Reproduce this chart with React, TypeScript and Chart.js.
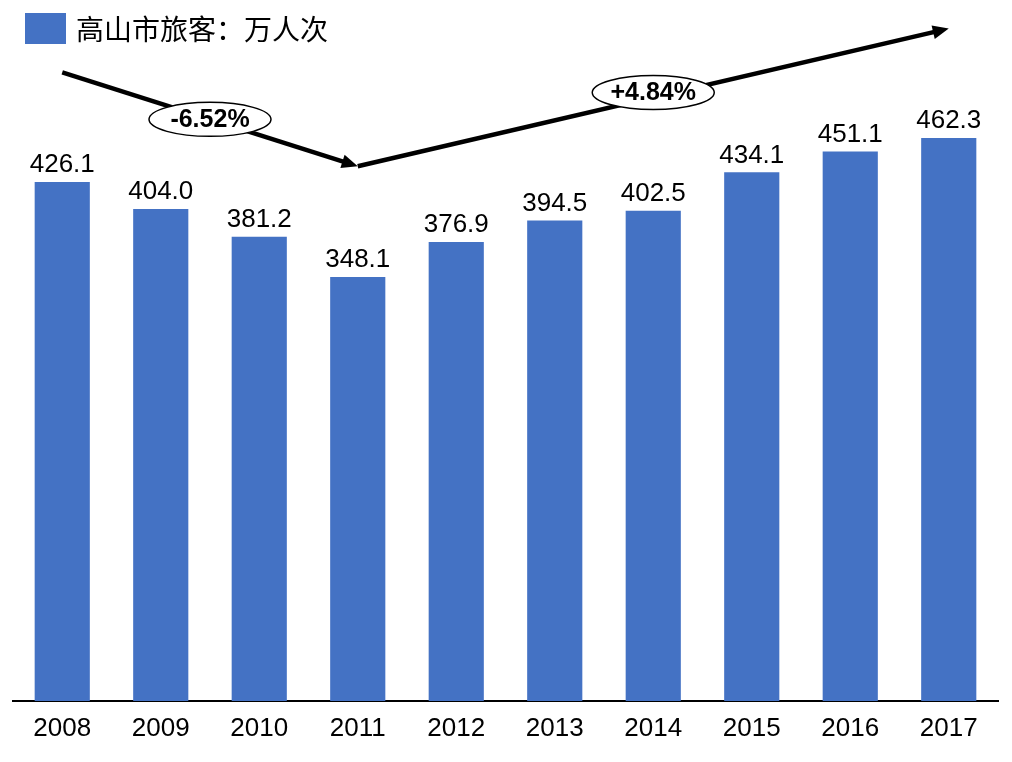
import { useEffect, useRef } from "react";
import { Chart, registerables } from "chart.js";

Chart.register(...registerables);

const years = ["2008", "2009", "2010", "2011", "2012", "2013", "2014", "2015", "2016", "2017"];
const visitors = [426.1, 404.0, 381.2, 348.1, 376.9, 394.5, 402.5, 434.1, 451.1, 462.3];
const seriesLabel = "高山市旅客：万人次";

// trend arrows, expressed in category index / value space
const trendFromIndex = [0, 3];
const trendToIndex = [3, 9];
const trendFromValue = [516, 439];
const trendToValue = [439, 552];
const trendLabels = ["-6.52%", "+4.84%"];

const BAR_COLOR = "#4472C4";
const LABEL_FONT = "26px 'Liberation Sans', Arial, sans-serif";
const BADGE_SHIFT = [0, -5];

const overlayPlugin = {
  id: "overlay",
  afterDatasetsDraw(chart: any) {
    const ctx = chart.ctx;
    const meta = chart.getDatasetMeta(0);
    ctx.save();
    ctx.font = LABEL_FONT;
    ctx.fillStyle = "#000";
    ctx.textAlign = "center";
    ctx.textBaseline = "alphabetic";
    meta.data.forEach((bar: any, i: number) => {
      const v = chart.data.datasets[0].data[i] as number;
      ctx.fillText(v.toFixed(1), bar.x, bar.y - 9.5);
    });
    ctx.restore();
  },
  afterDraw(chart: any) {
    const ctx = chart.ctx;
    const xs = chart.scales.x;
    const ys = chart.scales.y;
    ctx.save();

    // legend
    ctx.fillStyle = BAR_COLOR;
    ctx.fillRect(25, 13, 41, 31);
    ctx.fillStyle = "#000";
    ctx.font = "28px 'Noto Sans CJK SC', sans-serif";
    ctx.textAlign = "left";
    ctx.textBaseline = "middle";
    ctx.fillText(chart.data.datasets[0].label, 76, 29);

    // arrows
    for (let k = 0; k < trendLabels.length; k++) {
      const x1 = xs.getPixelForValue(trendFromIndex[k]);
      const y1 = ys.getPixelForValue(trendFromValue[k]);
      const x2 = xs.getPixelForValue(trendToIndex[k]);
      const y2 = ys.getPixelForValue(trendToValue[k]);
      const ang = Math.atan2(y2 - y1, x2 - x1);
      const headLen = 16;
      const headW = 7;
      const cos = Math.cos(ang);
      const sin = Math.sin(ang);
      ctx.strokeStyle = "#000";
      ctx.lineWidth = 4.5;
      ctx.lineCap = "butt";
      ctx.beginPath();
      ctx.moveTo(x1, y1);
      ctx.lineTo(x2 - cos * headLen * 0.7, y2 - sin * headLen * 0.7);
      ctx.stroke();
      ctx.fillStyle = "#000";
      ctx.beginPath();
      ctx.moveTo(x2, y2);
      ctx.lineTo(x2 - cos * headLen - sin * headW, y2 - sin * headLen + cos * headW);
      ctx.lineTo(x2 - cos * headLen + sin * headW, y2 - sin * headLen - cos * headW);
      ctx.closePath();
      ctx.fill();

      const cx = (x1 + x2) / 2;
      const cy = (y1 + y2) / 2 + BADGE_SHIFT[k];
      ctx.beginPath();
      ctx.ellipse(cx, cy, 61, 17, 0, 0, Math.PI * 2);
      ctx.fillStyle = "#fff";
      ctx.fill();
      ctx.lineWidth = 1.5;
      ctx.strokeStyle = "#000";
      ctx.stroke();
      ctx.fillStyle = "#000";
      ctx.font = "bold 25px 'Liberation Sans', Arial, sans-serif";
      ctx.textAlign = "center";
      ctx.textBaseline = "middle";
      ctx.fillText(trendLabels[k], cx, cy + 1);
    }
    ctx.restore();
  },
};

export default function App() {
  const canvasRef = useRef<HTMLCanvasElement | null>(null);

  useEffect(() => {
    if (!canvasRef.current) return;
    const chart = new Chart(canvasRef.current, {
      type: "bar",
      data: {
        labels: years,
        datasets: [
          {
            label: seriesLabel,
            data: visitors,
            backgroundColor: BAR_COLOR,
            borderWidth: 0,
            categoryPercentage: 1,
            barPercentage: 0.56,
          },
        ],
      },
      options: {
        animation: false,
        responsive: false,
        maintainAspectRatio: false,
        layout: { padding: { left: 13, right: 14, top: 0, bottom: 0 } },
        plugins: {
          legend: { display: false },
          tooltip: { enabled: false },
        },
        scales: {
          x: {
            grid: { display: false, drawTicks: false },
            border: { display: true, color: "#000", width: 2 },
            ticks: {
              color: "#000",
              font: { family: "'Liberation Sans', Arial, sans-serif", size: 26 },
              padding: 12,
              maxRotation: 0,
              autoSkip: false,
            },
            afterFit(scale: any) {
              scale.height = 61;
            },
          },
          y: {
            display: false,
            min: 0,
            max: 575.5,
          },
        },
      },
      plugins: [overlayPlugin],
    });
    return () => chart.destroy();
  }, []);

  return (
    <div style={{ position: "absolute", left: 0, top: 0, width: 1012, height: 762, background: "#fff" }}>
      <canvas ref={canvasRef} width={1012} height={762} style={{ display: "block" }} />
    </div>
  );
}
